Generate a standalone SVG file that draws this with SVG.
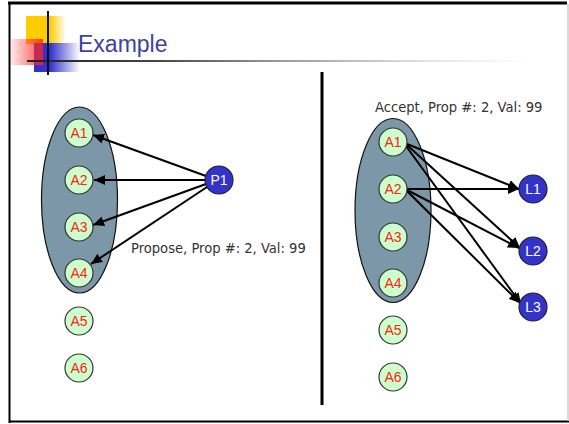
<svg xmlns="http://www.w3.org/2000/svg" width="569" height="424" viewBox="0 0 569 424">
<style>
.acc{fill:#ccffcc;stroke:#333;stroke-width:1.2}
.acct{fill:#ff2020;font-family:"Liberation Sans",Arial,sans-serif;font-size:14px;text-anchor:middle}
.prop{fill:#3333cc;stroke:#222;stroke-width:1.2}
.propt{fill:#fff;font-family:"Liberation Sans",Arial,sans-serif;font-size:14px;text-anchor:middle}
.grp{fill:#7b97a8;stroke:#111;stroke-width:1.2}
.lbl{fill:#333;font-family:"DejaVu Sans Condensed","Liberation Sans",sans-serif;font-size:14.6px}
.arr{stroke:#000;stroke-width:2;fill:none;marker-end:url(#ah)}
</style>
<defs>
<marker id="ah" markerUnits="userSpaceOnUse" markerWidth="12" markerHeight="10" refX="11" refY="5" orient="auto">
<path d="M0,0 L11,5 L0,10 z" fill="#000"/>
</marker>
<linearGradient id="gy" x1="0" y1="0" x2="1" y2="0"><stop offset="0.6" stop-color="#ffcc00"/><stop offset="1" stop-color="#ffcc00" stop-opacity="0"/></linearGradient>
<linearGradient id="gb" x1="0" y1="0" x2="1" y2="0"><stop offset="0.35" stop-color="#3333cc"/><stop offset="1" stop-color="#3333cc" stop-opacity="0"/></linearGradient>
<linearGradient id="gr" x1="0" y1="0" x2="1" y2="0"><stop offset="0" stop-color="#ff4040" stop-opacity="0.1"/><stop offset="1" stop-color="#ff2020" stop-opacity="0.85"/></linearGradient>
<linearGradient id="gl" gradientUnits="userSpaceOnUse" x1="27" y1="0" x2="530" y2="0"><stop offset="0" stop-color="#222"/><stop offset="0.25" stop-color="#444"/><stop offset="0.5" stop-color="#999"/><stop offset="0.8" stop-color="#e4e4e4"/><stop offset="1" stop-color="#fff"/></linearGradient>
</defs>
<rect x="0" y="0" width="569" height="424" fill="#fff"/>
<g id="frame">
<line x1="8" y1="3" x2="567" y2="3" stroke="#000" stroke-width="3"/>
<line x1="9.5" y1="2" x2="9.5" y2="423" stroke="#000" stroke-width="2"/>
<line x1="9" y1="421.5" x2="569" y2="421.5" stroke="#000" stroke-width="2"/>
<line x1="568" y1="4" x2="568" y2="421" stroke="#ccc" stroke-width="1.5"/>
</g>
<g id="logo">
<rect x="26" y="16" width="40" height="28" fill="url(#gy)"/>
<rect x="34" y="43" width="46" height="29" fill="url(#gb)"/>
<rect x="10" y="39" width="33" height="26" fill="url(#gr)"/>
<rect x="27" y="60" width="530" height="2" fill="url(#gl)"/>
<line x1="48" y1="11" x2="48" y2="75" stroke="#111" stroke-width="2"/>
</g>
<text x="78" y="52" font-family="Liberation Sans,Arial,sans-serif" font-size="23" fill="#3f3f9f">Example</text>
<line id="divider" x1="322" y1="72" x2="322" y2="405" stroke="#000" stroke-width="3"/>
<g id="group-left"><ellipse class="grp" cx="79.5" cy="200" rx="38" ry="93"/></g>
<g id="group-right"><ellipse class="grp" cx="393" cy="210.5" rx="38" ry="92"/></g>
<g id="connectors">
<line class="arr" x1="206" y1="176" x2="93" y2="135"/>
<line class="arr" x1="205" y1="180" x2="94" y2="180"/>
<line class="arr" x1="206" y1="184" x2="93" y2="225"/>
<line class="arr" x1="207" y1="187" x2="91" y2="264"/>
<line class="arr" x1="407" y1="144" x2="519" y2="189"/>
<line class="arr" x1="407" y1="145" x2="520" y2="248"/>
<line class="arr" x1="406" y1="146" x2="521" y2="304"/>
<line class="arr" x1="407" y1="189" x2="519" y2="189"/>
<line class="arr" x1="407" y1="190" x2="519" y2="248"/>
<line class="arr" x1="407" y1="191" x2="520" y2="303"/>
</g>
<g id="A1L"><circle class="acc" cx="79" cy="133" r="14"/><text class="acct" x="79" y="138">A1</text></g>
<g id="A2L"><circle class="acc" cx="79" cy="180" r="14"/><text class="acct" x="79" y="185">A2</text></g>
<g id="A3L"><circle class="acc" cx="79" cy="227" r="14"/><text class="acct" x="79" y="232">A3</text></g>
<g id="A4L"><circle class="acc" cx="79" cy="273" r="14"/><text class="acct" x="79" y="278">A4</text></g>
<g id="A5L"><circle class="acc" cx="79" cy="321" r="14"/><text class="acct" x="79" y="326">A5</text></g>
<g id="A6L"><circle class="acc" cx="79" cy="368" r="14"/><text class="acct" x="79" y="373">A6</text></g>
<g id="P1"><circle class="prop" cx="219" cy="180" r="14"/><text class="propt" x="219" y="185">P1</text></g>
<text class="lbl" x="131" y="253">Propose, Prop #: 2, Val: 99</text>
<g id="A1R"><circle class="acc" cx="393" cy="142" r="14"/><text class="acct" x="393" y="147">A1</text></g>
<g id="A2R"><circle class="acc" cx="393" cy="189" r="14"/><text class="acct" x="393" y="194">A2</text></g>
<g id="A3R"><circle class="acc" cx="393" cy="237" r="14"/><text class="acct" x="393" y="242">A3</text></g>
<g id="A4R"><circle class="acc" cx="393" cy="283" r="14"/><text class="acct" x="393" y="288">A4</text></g>
<g id="A5R"><circle class="acc" cx="393" cy="330" r="14"/><text class="acct" x="393" y="335">A5</text></g>
<g id="A6R"><circle class="acc" cx="393" cy="377" r="14"/><text class="acct" x="393" y="382">A6</text></g>
<g id="L1"><circle class="prop" cx="533" cy="189" r="14"/><text class="propt" x="533" y="194">L1</text></g>
<g id="L2"><circle class="prop" cx="533" cy="251" r="14"/><text class="propt" x="533" y="256">L2</text></g>
<g id="L3"><circle class="prop" cx="533" cy="307" r="14"/><text class="propt" x="533" y="312">L3</text></g>
<text class="lbl" x="375" y="112">Accept, Prop #: 2, Val: 99</text>
</svg>
